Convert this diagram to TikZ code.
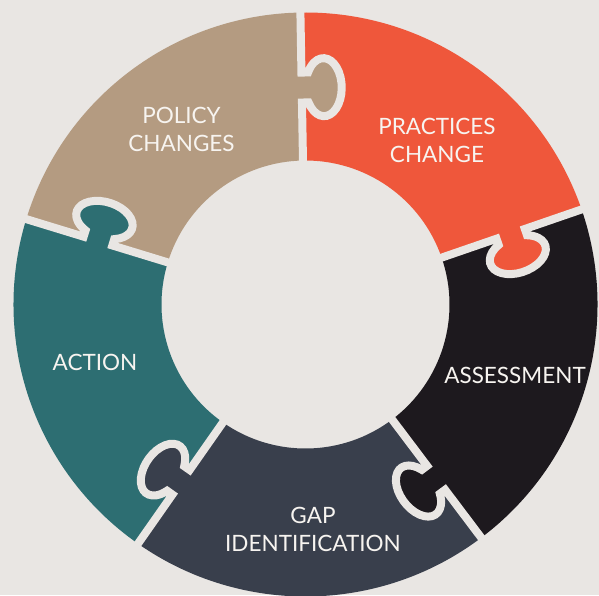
\documentclass[tikz,border=0pt]{standalone}
\usepackage{fontspec}
\setmainfont{Lato}
\definecolor{bgc}{HTML}{E9E6E3}
\definecolor{tanc}{HTML}{B49B81}
\definecolor{orac}{HTML}{EF573B}
\definecolor{blkc}{HTML}{1D191E}
\definecolor{gryc}{HTML}{393F4C}
\definecolor{tealc}{HTML}{2D6E72}
\definecolor{txtc}{HTML}{F7F4F0}
\newcommand\pzRo{292}
\newcommand\pzRi{144}
\tikzset{
  lbl/.style={text=txtc, align=center, font=\fontsize{22.5}{28}\selectfont, inner sep=0pt},
  gapline/.style={draw=bgc, line width=8pt},
}
\newcommand\pzsector[3]{%
  \fill[#1] (#2:\pzRi) -- (#2:\pzRo) arc[start angle=#2, end angle=#3, radius=\pzRo] -- (#3:\pzRi) arc[start angle=#3, end angle=#2, radius=\pzRi] -- cycle;}
\newcommand\pzknob[2]{%
  \begin{scope}[rotate=#2]
  \fill[#1] (202,2) -- (202,-6.6) arc[start angle=121.1, end angle=418.9, x radius=29, y radius=18] -- (232,2) -- cycle;
  \end{scope}}
\newcommand\pzdivider[1]{%
  \begin{scope}[rotate=#1]
  \draw[gapline] (134,0) -- (202,0) -- (202,-6.6) arc[start angle=121.1, end angle=418.9, x radius=29, y radius=18] -- (232,0) -- (302,0);
  \end{scope}}
\begin{document}
\begin{tikzpicture}[x=1pt,y=1pt]
\fill[bgc] (-305.5,-290.5) rectangle (293.5,304.5);
\useasboundingbox (-305.5,-290.5) rectangle (293.5,304.5);
\pzsector{orac}{19}{91}
\pzsector{tanc}{91}{163}
\pzsector{tealc}{163}{235}
\pzsector{gryc}{235}{307}
\pzsector{blkc}{307}{379}
\pzknob{tanc}{91}
\pzknob{orac}{19}
\pzknob{blkc}{-53}
\pzknob{gryc}{-125}
\pzknob{tealc}{163}
\pzdivider{91}
\pzdivider{19}
\pzdivider{-53}
\pzdivider{-125}
\pzdivider{163}
\node[lbl] (policy) at (-124,175.5) {POLICY\\CHANGES};
\node[lbl] (practices) at (131.5,164.5) {PRACTICES\\CHANGE};
\node[lbl] (assess) at (209.5,-70.5) {ASSESSMENT};
\node[lbl] (action) at (-210.5,-57.5) {ACTION};
\node[lbl] (gapid) at (7.5,-224.5) {GAP\\IDENTIFICATION};
\end{tikzpicture}
\end{document}
